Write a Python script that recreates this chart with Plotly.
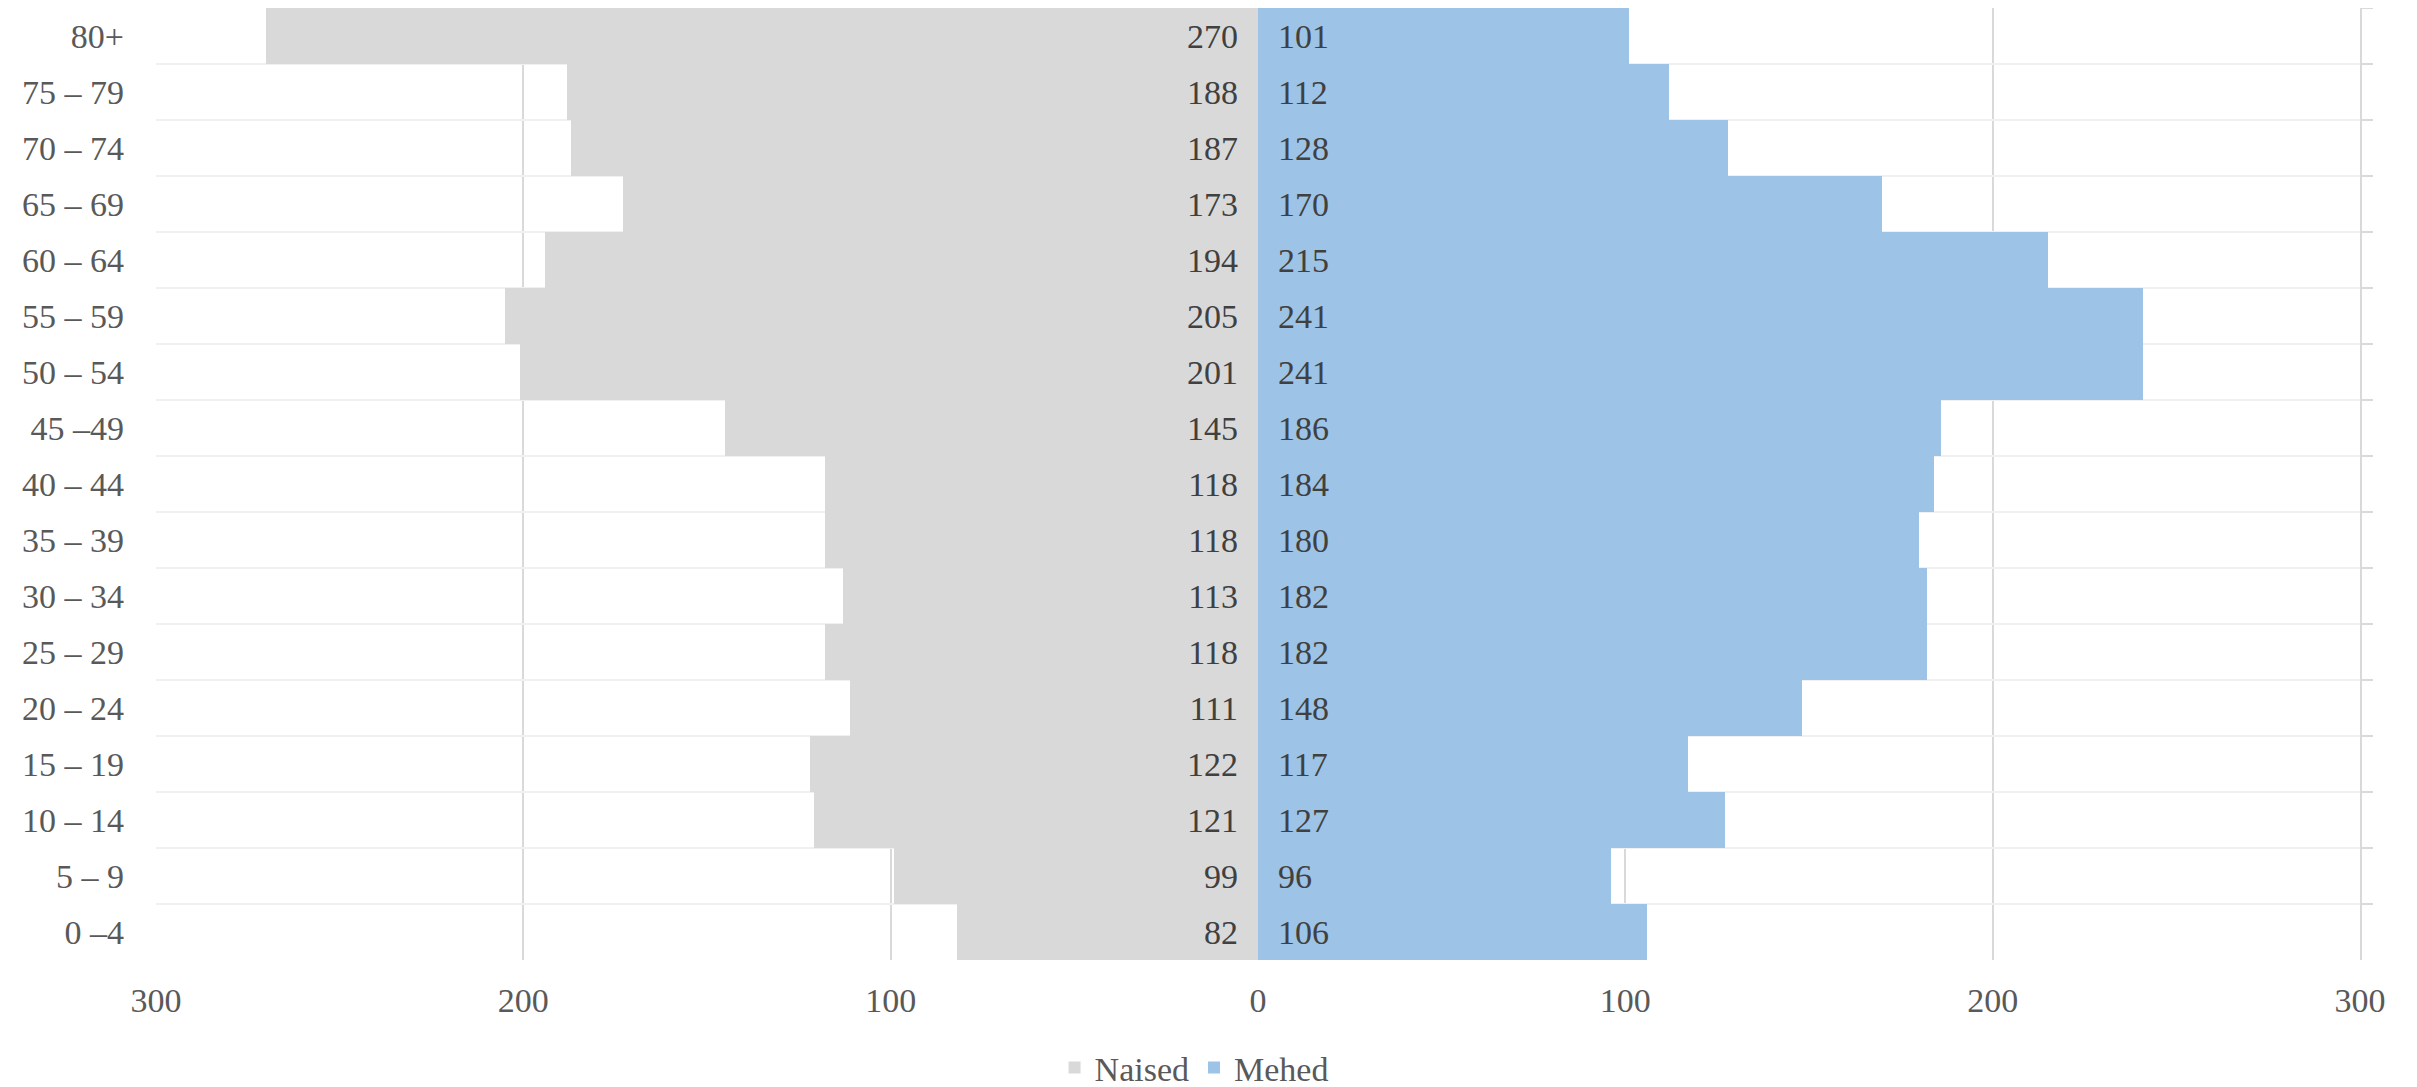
import plotly.graph_objects as go

categories = ["80+", "75 – 79", "70 – 74", "65 – 69", "60 – 64", "55 – 59", "50 – 54",
              "45 –49", "40 – 44", "35 – 39", "30 – 34", "25 – 29", "20 – 24",
              "15 – 19", "10 – 14", "5 – 9", "0 –4"]
naised = [270, 188, 187, 173, 194, 205, 201, 145, 118, 118, 113, 118, 111, 122, 121, 99, 82]
mehed = [101, 112, 128, 170, 215, 241, 241, 186, 184, 180, 182, 182, 148, 117, 127, 96, 106]
x_ticks = [-300, -200, -100, 0, 100, 200, 300]
x_ticktext = ["300", "200", "100", "0", "100", "200", "300"]

FONT = "'Liberation Serif', 'DejaVu Serif', serif"
NBSP = "\u00a0"

fig = go.Figure()
fig.add_trace(go.Bar(
    y=categories, x=[-v for v in naised], orientation="h", name="Naised",
    marker=dict(color="#D9D9D9", line=dict(width=0)),
    text=[str(v) for v in naised], texttemplate="%{text}" + NBSP * 2,
    textposition="inside", insidetextanchor="start", constraintext="none",
    textangle=0, textfont=dict(family=FONT, size=34, color="#404040"),
    yaxis="y", hoverinfo="skip",
))
fig.add_trace(go.Bar(
    y=categories, x=mehed, orientation="h", name="Mehed",
    marker=dict(color="#9DC3E6", line=dict(width=0)),
    text=[str(v) for v in mehed], texttemplate=NBSP * 2 + "%{text}",
    textposition="inside", insidetextanchor="start", constraintext="none",
    textangle=0, textfont=dict(family=FONT, size=34, color="#404040"),
    yaxis="y2", hoverinfo="skip",
))

# the page body adds an 8px offset, so the figure is sized to the remaining viewport
fig.update_layout(
    width=2409, height=1079,
    margin=dict(l=148, r=57, t=0, b=127, autoexpand=False),
    paper_bgcolor="white", plot_bgcolor="white",
    barmode="overlay", bargap=0,
    font=dict(family=FONT, size=34, color="#595959"),
    showlegend=True,
    legend=dict(orientation="h", x=0.471, xanchor="center", y=-0.1134, yanchor="middle",
                font=dict(family=FONT, size=34, color="#595959"),
                traceorder="normal", itemwidth=30),
    xaxis=dict(range=[-300, 300], tickvals=x_ticks, ticktext=x_ticktext,
               showgrid=True, gridcolor="#D9D9D9", gridwidth=1.5,
               zeroline=False, showline=False, ticks="", automargin=False,
               ticklabelstandoff=17,
               tickfont=dict(family=FONT, size=34, color="#595959")),
    yaxis=dict(type="category", categoryorder="array", categoryarray=categories,
               range=[16.5, -0.5], tickson="boundaries", automargin=False,
               showgrid=True, gridcolor="#F0F0F0", gridwidth=2,
               showline=False, ticks="", ticklabelstandoff=31,
               tickfont=dict(family=FONT, size=34, color="#595959")),
    yaxis2=dict(type="category", categoryorder="array", categoryarray=categories,
                range=[16.5, -0.5], overlaying="y", side="right", tickson="boundaries",
                automargin=False,
                showgrid=False, showline=True, linecolor="#D9D9D9", linewidth=2,
                ticks="outside", ticklen=11, tickcolor="#D9D9D9", tickwidth=2,
                showticklabels=False),
)

fig.write_html("out.html")
